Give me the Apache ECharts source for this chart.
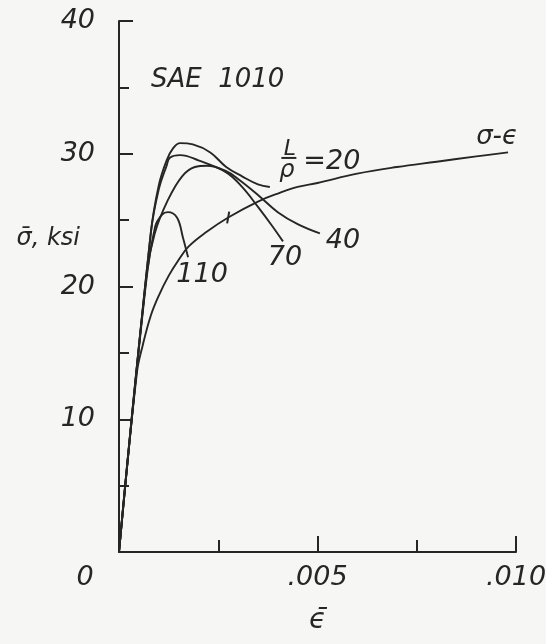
<!DOCTYPE html>
<html>
<head>
<meta charset="utf-8">
<script src="https://cdn.jsdelivr.net/npm/echarts@6/dist/echarts.min.js"></script>
<style>
  html, body { margin: 0; padding: 0; background: #f6f6f4; }
  #chart { width: 546px; height: 644px; }
</style>
</head>
<body>
<div id="chart"></div>
<script>
// ---- data (strain in in/in, stress in ksi) ----
const yTicks = [0, 10, 20, 30, 40];
const xTickLabels = { 0: '0', 0.005: '.005', 0.01: '.010' };

const sigmaEpsStrain = [0, 0.00045, 0.0006, 0.0008, 0.001, 0.00125, 0.0015, 0.00175, 0.0022, 0.00275, 0.0035, 0.004, 0.0045, 0.005, 0.006, 0.007, 0.008, 0.009, 0.0098];
const sigmaEpsStress = [0, 13.5, 15.6, 17.8, 19.3, 20.8, 22.0, 23.0, 24.1, 25.2, 26.4, 27.0, 27.5, 27.8, 28.5, 29.0, 29.4, 29.8, 30.1];

const strain20 = [0, 0.0008, 0.001, 0.0012, 0.00136, 0.00154, 0.00186, 0.0023, 0.0027, 0.0031, 0.0035, 0.0038];
const stress20 = [0, 24.0, 27.6, 29.5, 30.4, 30.8, 30.7, 30.1, 29.0, 28.3, 27.7, 27.5];

const strain40 = [0, 0.0007, 0.0009, 0.00123, 0.00159, 0.00191, 0.00222, 0.0027, 0.003, 0.0035, 0.004, 0.0045, 0.00506];
const stress40 = [0, 21.0, 24.0, 26.5, 28.3, 29.0, 29.1, 28.7, 28.1, 26.9, 25.6, 24.7, 24.0];

const strain70 = [0, 0.0008, 0.001, 0.0012, 0.00128, 0.00154, 0.002, 0.0027, 0.0031, 0.0035, 0.00385, 0.00413];
const stress70 = [0, 24.0, 27.3, 29.1, 29.7, 29.9, 29.5, 28.6, 27.5, 26.0, 24.6, 23.4];

const strain110 = [0, 0.00067, 0.00091, 0.00108, 0.00123, 0.00146, 0.00161, 0.00174];
const stress110 = [0, 20.0, 24.5, 25.4, 25.6, 25.2, 23.7, 22.2];

const tickMarkIndex = 9; // short cross mark on the σ-ϵ curve

// ---- styling ----
const INK = '#262626';
const FONT = "'DejaVu Sans', 'Liberation Sans', sans-serif";
const txt = (extra) => Object.assign({ color: INK, fontFamily: FONT, fontStyle: 'italic', fontWeight: 200, fontSize: 27 }, extra || {});

const pairs = (xs, ys) => xs.map((x, i) => [x, ys[i]]);
const last = (xs, ys) => [xs[xs.length - 1], ys[ys.length - 1]];

function endText(coord, text, offset, size) {
  return {
    coord: coord, symbol: 'circle', symbolSize: 0,
    label: Object.assign({ show: true, position: 'inside', formatter: text, offset: offset }, txt(size ? { fontSize: size } : {}))
  };
}

function curve(name, xs, ys, marks) {
  return {
    name: name, type: 'line', data: pairs(xs, ys),
    smooth: 0.4, showSymbol: false, symbol: 'none',
    lineStyle: { color: INK, width: 1.9 },
    markPoint: { silent: true, animation: false, data: marks }
  };
}

const chart = echarts.init(document.getElementById('chart'), null, { renderer: 'canvas' });

chart.setOption({
  animation: false,
  backgroundColor: '#f6f6f4',
  title: {
    text: 'SAE  1010', left: 146, top: 62,
    textStyle: txt({ fontSize: 26 })
  },
  grid: { left: 119, right: 30, top: 21, bottom: 92, containLabel: false, outerBoundsMode: 'none' },
  xAxis: {
    type: 'value', min: 0, max: 0.01, interval: 0.005,
    name: 'ϵ̄', nameLocation: 'middle', nameGap: 55, nameMoveOverlap: false,
    nameTextStyle: txt({ fontSize: 28 }),
    axisLine: { show: true, lineStyle: { color: INK, width: 2 } },
    axisTick: { show: true, inside: true, length: 16, lineStyle: { color: INK, width: 2 } },
    minorTick: { show: true, splitNumber: 2, length: 12, lineStyle: { color: INK, width: 2 } },
    splitLine: { show: false },
    axisLabel: {
      margin: 12,
      formatter: (v) => {
        const key = Math.round(v * 10000) / 10000;
        if (key === 0) return '{z|' + xTickLabels[0] + '}';
        return xTickLabels[key] || '';
      },
      rich: { z: txt({ padding: [0, 68, 0, 0] }) },
      ...txt()
    }
  },
  yAxis: {
    type: 'value', min: 0, max: 40, interval: 10,
    name: '{n|σ̄, ksi}', nameLocation: 'middle', nameRotate: 0, nameGap: 39, nameMoveOverlap: false,
    nameTextStyle: txt({ fontSize: 24, rich: { n: txt({ fontSize: 24, padding: [0, 0, 96, 0] }) } }),
    axisLine: { show: true, lineStyle: { color: INK, width: 2 } },
    axisTick: { show: true, inside: true, length: 14, lineStyle: { color: INK, width: 2 } },
    minorTick: { show: true, splitNumber: 2, length: 10, lineStyle: { color: INK, width: 2 } },
    splitLine: { show: false },
    axisLabel: Object.assign({ margin: 24, formatter: (v) => (v === 0 ? '' : (yTicks.indexOf(v) >= 0 ? String(v) : '')) }, txt())
  },
  series: [
    curve('σ-ϵ', sigmaEpsStrain, sigmaEpsStress, [
      endText(last(sigmaEpsStrain, sigmaEpsStress), 'σ-ϵ', [-11, -15], 26),
      { coord: [sigmaEpsStrain[tickMarkIndex], sigmaEpsStress[tickMarkIndex]], symbol: 'rect', symbolSize: [2, 12], symbolRotate: -10, itemStyle: { color: INK }, label: { show: false } }
    ]),
    curve('L/ρ = 20', strain20, stress20, [
      endText(last(strain20, stress20), 'L', [20, -38], 22),
      { coord: last(strain20, stress20), symbol: 'rect', symbolSize: [15, 2], symbolOffset: [19, -29], itemStyle: { color: INK }, label: { show: false } },
      endText(last(strain20, stress20), 'ρ', [17, -16], 24),
      endText(last(strain20, stress20), '=20', [62, -25])
    ]),
    curve('L/ρ = 40', strain40, stress40, [
      endText(last(strain40, stress40), '40', [23, 8])
    ]),
    curve('L/ρ = 70', strain70, stress70, [
      endText(last(strain70, stress70), '70', [2, 17])
    ]),
    curve('L/ρ = 110', strain110, stress110, [
      endText(last(strain110, stress110), '110', [14, 18])
    ])
  ]
});
</script>
</body>
</html>
